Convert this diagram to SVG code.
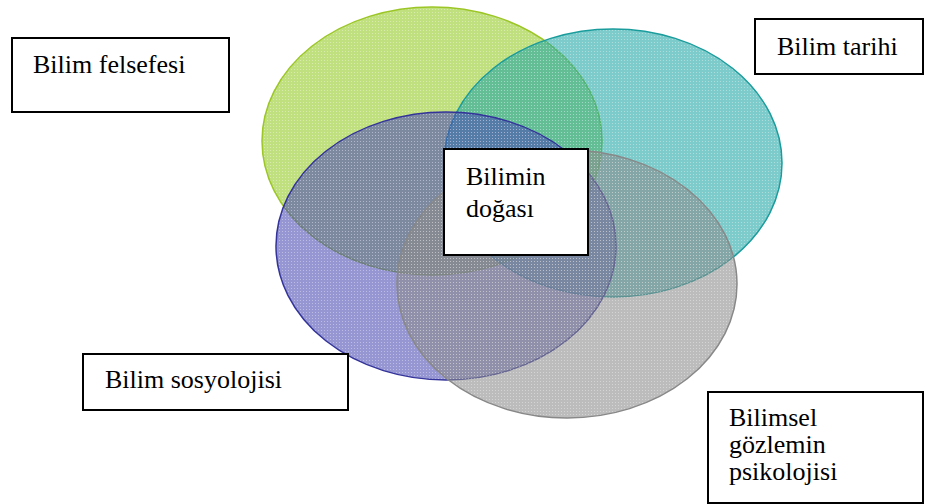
<svg xmlns="http://www.w3.org/2000/svg" width="925" height="504" viewBox="0 0 925 504">
<defs>
<pattern id="pg" width="3" height="3" patternUnits="userSpaceOnUse"><rect width="3" height="3" fill="#9acd32" fill-opacity="0.62"/><rect width="1" height="1" fill="#ffffff" fill-opacity="0.35"/></pattern>
<pattern id="pt" width="3" height="3" patternUnits="userSpaceOnUse"><rect width="3" height="3" fill="#1fa6a6" fill-opacity="0.58"/><rect width="1" height="1" fill="#ffffff" fill-opacity="0.35"/></pattern>
<pattern id="pb" width="3" height="3" patternUnits="userSpaceOnUse"><rect width="3" height="3" fill="#4a4ab4" fill-opacity="0.58"/><rect width="1" height="1" fill="#ffffff" fill-opacity="0.35"/></pattern>
<pattern id="pk" width="3" height="3" patternUnits="userSpaceOnUse"><rect width="3" height="3" fill="#8c8c8c" fill-opacity="0.58"/><rect width="1" height="1" fill="#ffffff" fill-opacity="0.35"/></pattern>
</defs>
<style>
.box{fill:#ffffff;stroke:#000000;stroke-width:2}
.lbl{font-family:"Liberation Serif","Times New Roman",serif;font-size:26px;fill:#000000}
.ell{stroke-width:1.5}
</style>
<g id="circles">
<ellipse id="c-felsefe" class="ell" cx="432" cy="141" rx="170" ry="134" fill="url(#pg)" stroke="#9cc626"/>
<ellipse id="c-tarih" class="ell" cx="613" cy="163" rx="169" ry="134" fill="url(#pt)" stroke="#1a9c9c"/>
<ellipse id="c-sosyoloji" class="ell" cx="446" cy="246" rx="170" ry="134" fill="url(#pb)" stroke="#33339a"/>
<ellipse id="c-psikoloji" class="ell" cx="567" cy="284" rx="170" ry="134" fill="url(#pk)" stroke="#888888"/>
</g>
<g id="connectors"></g>
<g id="n-felsefe"><rect class="box" x="12" y="38" width="217" height="74"/><text class="lbl" x="33" y="73">Bilim felsefesi</text></g>
<g id="n-tarih"><rect class="box" x="755" y="19" width="168" height="55"/><text class="lbl" x="777" y="55">Bilim tarihi</text></g>
<g id="n-doga"><rect class="box" x="444" y="149" width="144" height="106"/><text class="lbl" x="466" y="185">Bilimin</text><text class="lbl" x="466" y="217">doğası</text></g>
<g id="n-sosyoloji"><rect class="box" x="83" y="354" width="265" height="56"/><text class="lbl" x="105" y="388">Bilim sosyolojisi</text></g>
<g id="n-psikoloji"><rect class="box" x="708" y="392" width="215" height="111"/><text class="lbl" x="729" y="426">Bilimsel</text><text class="lbl" x="729" y="453">gözlemin</text><text class="lbl" x="729" y="480">psikolojisi</text></g>
</svg>
